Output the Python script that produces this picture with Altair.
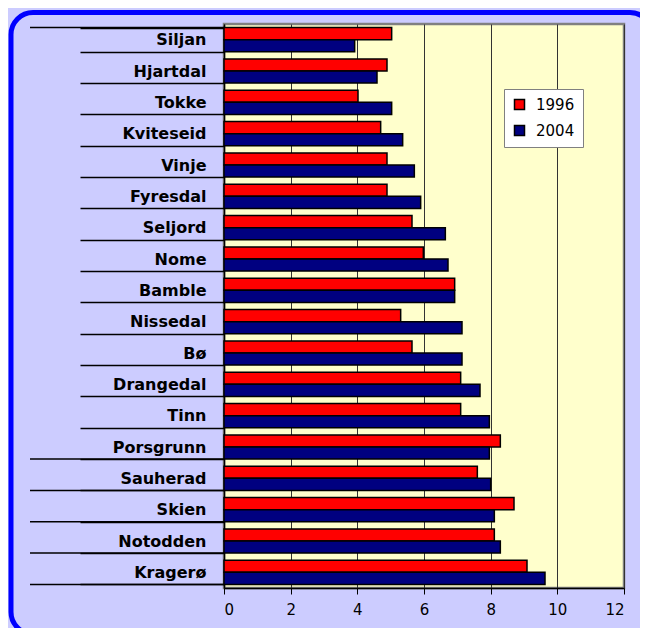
import altair as alt
import pandas as pd

names = ["Siljan", "Hjartdal", "Tokke", "Kviteseid", "Vinje", "Fyresdal", "Seljord",
         "Nome", "Bamble", "Nissedal", "Bø", "Drangedal", "Tinn", "Porsgrunn",
         "Sauherad", "Skien", "Notodden", "Kragerø"]
v1996 = [5.03, 4.89, 4.02, 4.70, 4.89, 4.89, 5.64, 5.98, 6.92, 5.30, 5.64, 7.10, 7.10,
         8.29, 7.60, 8.70, 8.11, 9.09]
v2004 = [3.92, 4.59, 5.03, 5.36, 5.71, 5.90, 6.64, 6.72, 6.92, 7.14, 7.14, 7.68, 7.96,
         7.96, 8.00, 8.11, 8.29, 9.63]
series = ["1996", "2004"]
colors = ["#FF0000", "#000080"]
x_ticks = [0, 2, 4, 6, 8, 10, 12]
long_sep_top = ["Siljan"]
long_sep_bottom = ["Porsgrunn", "Sauherad", "Skien", "Notodden", "Kragerø"]

rows = []
for n, a, b in zip(names, v1996, v2004):
    rows.append({"Kommune": n, "År": series[0], "Verdi": a})
    rows.append({"Kommune": n, "År": series[1], "Verdi": b})
df = pd.DataFrame(rows)

LFONT = "DejaVu Sans"
yscale = alt.Scale(paddingInner=0.23, paddingOuter=0.115)
xscale = alt.Scale(domain=[0, 12], nice=False)

bars = alt.Chart(df).mark_bar(stroke="black", strokeWidth=1.5).encode(
    y=alt.Y("Kommune:N", sort=names, scale=yscale, title=None,
            axis=alt.Axis(tickSize=144, tickBand="extent", labelPadding=-126,
                          labelFontSize=16, labelFontWeight="bold", labelFont=LFONT,
                          labelColor="black", tickColor="black", tickWidth=1.5,
                          domainColor="black", domainWidth=1.5)),
    yOffset=alt.YOffset("År:N", sort=series, scale=alt.Scale(paddingInner=0, paddingOuter=0)),
    x=alt.X("Verdi:Q", scale=xscale, title=None,
            axis=alt.Axis(values=x_ticks, tickSize=6, labelPadding=8, labelFontSize=15,
                          labelFont=LFONT, labelColor="black", tickColor="black",
                          domainColor="black", domainWidth=1.5, grid=True,
                          gridColor="#333333", gridWidth=1)),
    color=alt.Color("År:N", scale=alt.Scale(domain=series, range=colors),
                    legend=alt.Legend(orient="none", legendX=280, legendY=65, title=None,
                                      fillColor="white", strokeColor="#808080", padding=8,
                                      labelFontSize=15, labelFont=LFONT, labelOffset=9,
                                      symbolType="square", symbolSize=100,
                                      symbolStrokeColor="black", symbolStrokeWidth=1.5,
                                      rowPadding=9))
)

sep_top = alt.Chart(pd.DataFrame({"Kommune": long_sep_top})).mark_rule(
    color="black", strokeWidth=1.5
).encode(
    y=alt.Y("Kommune:N", sort=names, bandPosition=0),
    x=alt.value(-194), x2=alt.value(0)
)
sep_bottom = alt.Chart(pd.DataFrame({"Kommune": long_sep_bottom})).mark_rule(
    color="black", strokeWidth=1.5
).encode(
    y=alt.Y("Kommune:N", sort=names, bandPosition=1),
    x=alt.value(-194), x2=alt.value(0)
)

frame = alt.Chart(pd.DataFrame({"Kommune": ["Siljan"]})).mark_rect(
    fillOpacity=0, stroke="#0000FF", strokeWidth=5, cornerRadius=22
).encode(
    x=alt.value(-213), x2=alt.value(428), y=alt.value(-11.5), y2=alt.value(610)
)

chart = alt.layer(bars, sep_top, sep_bottom, frame).properties(
    width=400, height=564,
    autosize=alt.AutoSizeParams(type="none"),
    padding={"left": 216, "top": 16, "right": 16, "bottom": 40},
    background="#CCCCFF"
).configure_view(fill="#FFFFCC", stroke="#808080", strokeWidth=2.5)

chart.save("out.html", embed_options={"renderer": "svg", "actions": False})
